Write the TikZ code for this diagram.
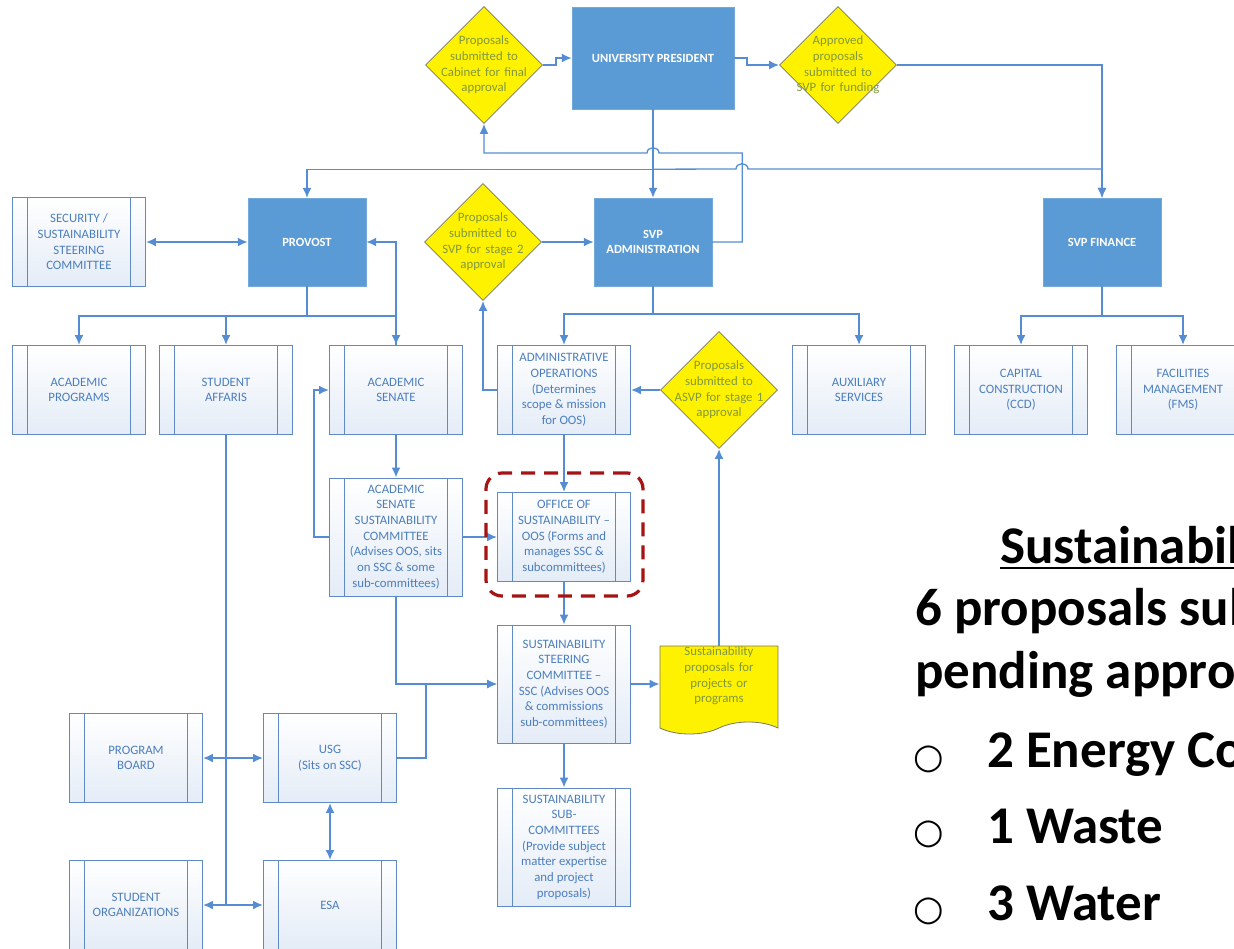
\documentclass[tikz,border=0pt]{standalone}
\usepackage{fontspec}
\setmainfont{Carlito}
\newfontfamily\bulletfont{DejaVu Sans}
\usetikzlibrary{arrows.meta,shapes.geometric,shapes.symbols}
\definecolor{leadblue}{RGB}{91,155,213}
\definecolor{wireblue}{RGB}{84,141,212}
\definecolor{edgeblue}{RGB}{95,138,196}
\definecolor{inkblue}{RGB}{76,126,190}
\definecolor{paleblue}{RGB}{228,236,247}
\definecolor{gateink}{RGB}{128,152,62}
\definecolor{gateedge}{RGB}{120,120,100}
\definecolor{framered}{RGB}{164,20,20}

\begin{document}
\begin{tikzpicture}[x=1pt, y=-1pt,
  every node/.style={font=\fontsize{12.8}{15.7}\selectfont, align=center, inner sep=0pt},
  proc/.style={rectangle, draw=edgeblue, line width=0.9pt, top color=white, bottom color=paleblue, text=inkblue,
    minimum width=133pt, minimum height=89pt,
    path picture={\draw[edgeblue, line width=0.9pt]
      ([xshift=15pt]path picture bounding box.north west) -- ([xshift=15pt]path picture bounding box.south west)
      ([xshift=-15pt]path picture bounding box.north east) -- ([xshift=-15pt]path picture bounding box.south east);}},
  lead/.style={rectangle, fill=leadblue, draw=leadblue!85!white, text=white,
    font=\fontsize{12.5}{15.7}\selectfont\bfseries, minimum width=118pt, minimum height=88pt},
  gate/.style={diamond, aspect=1, fill=yellow, draw=gateedge, line width=0.8pt, minimum width=117pt, minimum height=117pt},
  gatetext/.style={text=gateink, text width=110pt},
  doc/.style={tape, tape bend top=none, tape bend bottom=in and out, tape bend height=12pt, fill=yellow, draw=gateedge,
    line width=0.8pt, minimum width=118pt, minimum height=88pt},
  hilite/.style={rectangle, rounded corners=16pt, draw=framered, line width=3.2pt, dash pattern=on 14pt off 9pt,
    minimum width=157pt, minimum height=123pt},
  wire/.style={draw=wireblue, line width=1.8pt},
  thinwire/.style={draw=wireblue, line width=1.3pt},
  arr/.style={wire, -{Latex[length=10pt,width=9pt]}},
  thinarr/.style={thinwire, -{Latex[length=10pt,width=9pt]}},
  dbl/.style={wire, {Latex[length=10pt,width=9pt]}-{Latex[length=10pt,width=9pt]}},
  big/.style={font=\fontsize{53}{62}\selectfont\bfseries, anchor=base west}
]
\useasboundingbox (0,0) rectangle (1234,948);
\clip (0,0) rectangle (1234,948);

\node[gate, label={[gatetext]center:{Proposals\\submitted to\\Cabinet for final\\approval}}] (cab) at (484,65) {};
\node[lead, minimum width=162pt, minimum height=102pt] (pres) at (653,58) {UNIVERSITY PRESIDENT};
\node[gate, label={[gatetext]center:{Approved\\proposals\\submitted to\\SVP for funding}}] (fund) at (838,65) {};
\node[proc] (sec) at (79,242) {SECURITY /\\SUSTAINABILITY\\STEERING\\COMMITTEE};
\node[lead] (prov) at (307,242) {PROVOST};
\node[gate, label={[gatetext]center:{Proposals\\submitted to\\SVP for stage 2\\approval}}] (stg2) at (483,242) {};
\node[lead] (svpa) at (653,242) {SVP\\ADMINISTRATION};
\node[lead] (svpf) at (1102,242) {SVP FINANCE};
\node[proc] (acprog) at (79,390) {ACADEMIC\\PROGRAMS};
\node[proc] (stuaff) at (226,390) {STUDENT\\AFFARIS};
\node[proc] (acsen) at (396,390) {ACADEMIC\\SENATE};
\node[proc] (adops) at (564,390) {ADMINISTRATIVE\\OPERATIONS\\(Determines\\scope \& mission\\for OOS)};
\node[gate, label={[gatetext]center:{Proposals\\submitted to\\ASVP for stage 1\\approval}}] (stg1) at (719,390) {};
\node[proc] (aux) at (859,390) {AUXILIARY\\SERVICES};
\node[proc] (ccd) at (1021,390) {CAPITAL\\CONSTRUCTION\\(CCD)};
\node[proc] (fms) at (1183,390) {FACILITIES\\MANAGEMENT\\(FMS)};
\node[proc, minimum height=118pt] (assc) at (396,537) {ACADEMIC\\SENATE\\SUSTAINABILITY\\COMMITTEE\\(Advises OOS, sits\\on SSC \& some\\sub-committees)};
\node[proc] (oos) at (564,537) {OFFICE OF\\SUSTAINABILITY –\\OOS (Forms and\\manages SSC \&\\subcommittees)};
\node[proc, minimum height=118pt] (ssc) at (564,684) {SUSTAINABILITY\\STEERING\\COMMITTEE –\\SSC (Advises OOS\\\& commissions\\sub-committees)};
\node[doc, label={[gatetext, yshift=8pt]center:{Sustainability\\proposals for\\projects or\\programs}}] (props) at (719,684) {};
\node[proc, minimum height=118pt] (subc) at (564,847) {SUSTAINABILITY\\SUB-\\COMMITTEES\\(Provide subject\\matter expertise\\and project\\proposals)};
\node[proc] (pb) at (136,758) {PROGRAM\\BOARD};
\node[proc] (usg) at (330,758) {USG\\(Sits on SSC)};
\node[proc] (so) at (136,905) {STUDENT\\ORGANIZATIONS};
\node[proc] (esa) at (330,905) {ESA};

\draw[arr] (cab.east) -- ++(13,0) |- (pres.west);
\draw[arr] (pres.east) -- ++(13,0) |- (fund.west);
\draw[thinarr] (fund.east) -| (svpf.north);
\draw[arr] (pres.south) -- (svpa.north);
\draw[thinarr] (pres.south) ++(0,60) -| (prov.north);
\draw[thinarr] (pres.south) ++(0,60) -- (736,169) .. controls (736,162) and (748,162) .. (748,169) -| (svpf.north);
\draw[thinarr] (svpa.east) -- ++(30,0) -- ++(0,-89) -- (659,153) .. controls (659,146) and (647,146) .. (647,153) -| (cab.south);
\draw[dbl] (sec.east) -- (prov.west);
\draw[dbl] (prov.east) -| (acsen.north);
\draw[arr] (stg2.east) -- (svpa.west);
\draw[arr] (prov.south) -- ++(0,30) -| (acprog.north);
\draw[arr] (prov.south) -- ++(0,30) -| (stuaff.north);
\draw[wire] (prov.south) -- ++(0,30) -| (acsen.north);
\draw[arr] (svpa.south) -- ++(0,28) -| (adops.north);
\draw[arr] (svpa.south) -- ++(0,28) -| (aux.north);
\draw[arr] (svpf.south) -- ++(0,30) -| (ccd.north);
\draw[arr] (svpf.south) -- ++(0,30) -| (fms.north);
\draw[arr] (adops.west) -| (stg2.south);
\draw[arr] (stg1.west) -- (adops.east);
\draw[arr] (acsen.south) -- (assc.north);
\draw[arr] (assc.west) -- ++(-15,0) |- (acsen.west);
\draw[arr] (assc.east) -- (oos.west);
\draw[arr] (adops.south) -- (oos.north);
\draw[arr] (oos.south) -- (ssc.north);
\draw[arr] (assc.south) |- (ssc.west);
\draw[arr] (usg.east) -- ++(29,0) |- (ssc.west);
\draw[arr] (ssc.east) -- (props.west);
\draw[arr] (props.north) -- (stg1.south);
\draw[arr] (ssc.south) -- (subc.north);
\draw[wire] (stuaff.south) -- (stuaff.south |- so.east);
\draw[dbl] (pb.east) -- (usg.west);
\draw[dbl] (so.east) -- (esa.west);
\draw[dbl] (usg.south) -- (esa.north);

\node[hilite] (oosfr) at (564.5,534.5) {};

\node[big] (ttl) at (1000,563) {Sustainabil};
\draw[line width=2.5pt] ([yshift=-5pt]ttl.base west) -- ([yshift=-5pt]ttl.base east);
\node[big] (l1) at (915,625) {6 proposals sub};
\node[big] (l2) at (915,688) {pending appro};
\node[big, font=\fontsize{35}{40}\bulletfont] (b1) at (913,768) {○};
\node[big, font=\fontsize{35}{40}\bulletfont] (b2) at (913,843) {○};
\node[big, font=\fontsize{35}{40}\bulletfont] (b3) at (913,920) {○};
\node[big] (t1) at (987,767) {2 Energy Co};
\node[big] (t2) at (987,843) {1 Waste};
\node[big] (t3) at (987,920) {3 Water};
\end{tikzpicture}
\end{document}
